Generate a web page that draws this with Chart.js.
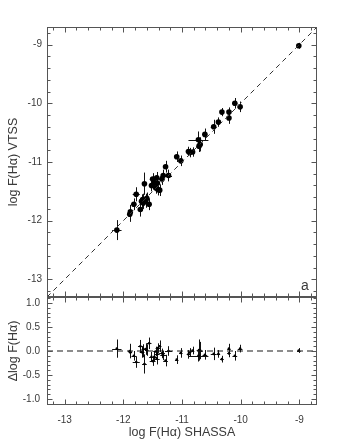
<!DOCTYPE html>
<html>
<head>
<meta charset="utf-8">
<script src="https://cdn.jsdelivr.net/npm/chart.js@4.4.1/dist/chart.umd.min.js"></script>
<style>
  html, body { margin: 0; padding: 0; background: #fff; }
  #wrap { position: relative; width: 360px; height: 448px; }
  #wrap canvas { position: absolute; left: 0; top: 0; }
</style>
</head>
<body>
<div id="wrap">
  <canvas id="chart-top" width="360" height="448"></canvas>
  <canvas id="chart-bottom" width="360" height="448"></canvas>
</div>
<script>
// --- values ---
const shassaLog = [-12.11, -11.89, -11.88, -11.82, -11.78, -11.71, -11.69, -11.67, -11.66, -11.64,
                   -11.62, -11.60, -11.56, -11.52, -11.50, -11.47, -11.45, -11.43, -11.42, -11.41,
                   -11.38, -11.34, -11.32, -11.28, -11.23, -11.09, -11.02, -10.89, -10.87, -10.82,
                   -10.72, -10.71, -10.69, -10.61, -10.46, -10.38, -10.32, -10.20, -10.20, -10.10,
                   -10.01, -9.01];
const vtssLog   = [-12.16, -11.89, -11.85, -11.72, -11.55, -11.81, -11.67, -11.64, -11.70, -11.37,
                   -11.66, -11.62, -11.72, -11.40, -11.29, -11.35, -11.44, -11.27, -11.36, -11.47,
                   -11.48, -11.29, -11.23, -11.08, -11.23, -10.91, -10.98, -10.82, -10.84, -10.83,
                   -10.62, -10.73, -10.70, -10.53, -10.40, -10.32, -10.15, -10.15, -10.25, -10.00,
                   -10.06, -9.02];
const shassaErr = [0.08, 0.03, 0.03, 0.04, 0.06, 0.04, 0.03, 0.03, 0.03, 0.04,
                   0.04, 0.03, 0.04, 0.04, 0.05, 0.06, 0.04, 0.05, 0.04, 0.04,
                   0.03, 0.05, 0.05, 0.04, 0.06, 0.03, 0.03, 0.03, 0.03, 0.03,
                   0.17, 0.04, 0.04, 0.04, 0.05, 0.03, 0.03, 0.03, 0.03, 0.04,
                   0.04, 0.03];
const vtssErr   = [0.17, 0.13, 0.12, 0.10, 0.12, 0.12, 0.12, 0.10, 0.10, 0.19,
                   0.12, 0.10, 0.10, 0.10, 0.10, 0.10, 0.10, 0.10, 0.10, 0.10,
                   0.10, 0.10, 0.10, 0.10, 0.10, 0.09, 0.09, 0.08, 0.08, 0.08,
                   0.14, 0.10, 0.12, 0.10, 0.12, 0.08, 0.07, 0.08, 0.10, 0.09,
                   0.09, 0.05];
const deltaLog  = [0.05, 0.00, -0.03, -0.10, -0.23, 0.10, -0.02, -0.03, 0.04, -0.27,
                   0.04, 0.02, 0.16, -0.12, -0.21, -0.12, -0.01, -0.16, -0.06, 0.06,
                   0.10, -0.05, -0.09, -0.20, 0.00, -0.18, -0.04, -0.07, -0.03, 0.01,
                   -0.10, 0.02, 0.01, -0.08, -0.06, -0.06, -0.17, -0.05, 0.05, -0.10,
                   0.05, 0.01];
const deltaErr  = [0.19, 0.15, 0.12, 0.10, 0.12, 0.13, 0.12, 0.10, 0.10, 0.20,
                   0.12, 0.12, 0.12, 0.10, 0.10, 0.10, 0.10, 0.12, 0.10, 0.10,
                   0.12, 0.10, 0.10, 0.12, 0.10, 0.09, 0.10, 0.09, 0.09, 0.08,
                   0.12, 0.22, 0.18, 0.10, 0.13, 0.08, 0.07, 0.08, 0.10, 0.10,
                   0.08, 0.05];

const refLineX = [-13.3, -8.7];
const fluxTicks = [-13, -12, -11, -10, -9];
const deltaTicks = [-1, -0.5, 0, 0.5, 1];
const deltaTickLabels = ['-1.0', '-0.5', '0.0', '0.5', '1.0'];

const AXIS = '#555';
const TEXT = '#3a3a3a';
const FONT = "'Liberation Sans', Arial, sans-serif";

function range(from, to, step) {
  const out = [];
  for (let v = from; v <= to + 1e-9; v += step) out.push(+v.toFixed(3));
  return out;
}

// error bars drawn through the chart scales
const errorBars = {
  id: 'errorBars',
  beforeDatasetsDraw(chart) {
    const { ctx, scales: { x, y } } = chart;
    chart.data.datasets.forEach(ds => {
      if (!ds.errY) return;
      ctx.save();
      ctx.strokeStyle = '#111';
      ctx.lineWidth = 1;
      ctx.beginPath();
      ds.data.forEach((p, i) => {
        const px = Math.round(x.getPixelForValue(p.x)) + 0.5;
        const py = Math.round(y.getPixelForValue(p.y)) + 0.5;
        ctx.moveTo(px, y.getPixelForValue(p.y - ds.errY[i]));
        ctx.lineTo(px, y.getPixelForValue(p.y + ds.errY[i]));
        ctx.moveTo(x.getPixelForValue(p.x - ds.errX[i]), py);
        ctx.lineTo(x.getPixelForValue(p.x + ds.errX[i]), py);
      });
      ctx.stroke();
      ctx.restore();
    });
  }
};

// box frame with inward ticks on all four sides
function frame(xMinor, yMajor, yMinor, note) {
  return {
    id: 'frame',
    afterDraw(chart) {
      const { ctx, chartArea: a, scales: { x, y } } = chart;
      const L = Math.round(a.left) + 0.5, R = Math.round(a.right) - 0.5;
      const T = Math.round(a.top) + 0.5, B = Math.round(a.bottom) - 0.5;
      ctx.save();
      ctx.strokeStyle = AXIS;
      ctx.lineWidth = 1;
      ctx.strokeRect(L, T, R - L, B - T);
      ctx.beginPath();
      const xt = (v, len) => {
        const px = Math.round(x.getPixelForValue(v)) + 0.5;
        ctx.moveTo(px, T); ctx.lineTo(px, T + len);
        ctx.moveTo(px, B); ctx.lineTo(px, B - len);
      };
      const yt = (v, len) => {
        const py = Math.round(y.getPixelForValue(v)) + 0.5;
        ctx.moveTo(L, py); ctx.lineTo(L + len, py);
        ctx.moveTo(R, py); ctx.lineTo(R - len, py);
      };
      fluxTicks.forEach(v => xt(v, 5));
      xMinor.forEach(v => xt(v, 3));
      yMajor.forEach(v => yt(v, 5));
      yMinor.forEach(v => yt(v, 3));
      ctx.stroke();
      if (note) {
        ctx.fillStyle = TEXT;
        ctx.font = `14px ${FONT}`;
        ctx.textAlign = 'center';
        ctx.textBaseline = 'middle';
        ctx.fillText(note, a.right - 12, a.bottom - 11);
      }
      ctx.restore();
    }
  };
}

const xMinor = range(-13.2, -8.8, 0.2);

const tickFont = { family: FONT, size: 10 };
const titleFont = { family: FONT, size: 12.5 };

new Chart(document.getElementById('chart-top'), {
  type: 'scatter',
  data: {
    datasets: [
      {
        type: 'line',
        data: refLineX.map(v => ({ x: v, y: v })),
        borderColor: '#333', borderWidth: 1, borderDash: [5, 4], pointRadius: 0, fill: false
      },
      {
        data: shassaLog.map((v, i) => ({ x: v, y: vtssLog[i] })),
        errX: shassaErr, errY: vtssErr,
        pointRadius: 2.8, pointStyle: 'circle', backgroundColor: '#000', borderWidth: 0
      }
    ]
  },
  options: {
    responsive: false,
    animation: false,
    devicePixelRatio: 1,
    layout: { padding: { top: 27, right: 43, bottom: 151, left: 0 } },
    plugins: { legend: { display: false }, tooltip: { enabled: false } },
    scales: {
      x: { type: 'linear', min: -13.3, max: -8.7, display: false },
      y: {
        type: 'linear', min: -13.3, max: -8.7,
        afterFit: s => { s.width = 47; },
        afterBuildTicks: s => { s.ticks = fluxTicks.map(v => ({ value: v })); },
        grid: { display: false, drawTicks: false },
        border: { display: false },
        ticks: { padding: 5, font: tickFont, color: TEXT, callback: v => String(v) },
        title: { display: true, text: 'log F(H\u03B1) VTSS', font: titleFont, color: TEXT, padding: { top: 6 } }
      }
    }
  },
  plugins: [errorBars, frame(xMinor, fluxTicks, range(-13.2, -8.8, 0.2), 'a')]
});

new Chart(document.getElementById('chart-bottom'), {
  type: 'scatter',
  data: {
    datasets: [
      {
        type: 'line',
        data: refLineX.map(v => ({ x: v, y: 0 })),
        borderColor: '#1a1a1a', borderWidth: 1.2, borderDash: [6, 4], pointRadius: 0, fill: false
      },
      {
        data: shassaLog.map((v, i) => ({ x: v, y: deltaLog[i] })),
        errX: shassaErr, errY: deltaErr,
        pointRadius: 1.3, pointStyle: 'circle', backgroundColor: '#000', borderWidth: 0
      }
    ]
  },
  options: {
    responsive: false,
    animation: false,
    devicePixelRatio: 1,
    layout: { padding: { top: 297, right: 43, bottom: 0, left: 0 } },
    plugins: { legend: { display: false }, tooltip: { enabled: false } },
    scales: {
      x: {
        type: 'linear', min: -13.3, max: -8.7,
        afterFit: s => { s.height = 43; },
        afterBuildTicks: s => { s.ticks = fluxTicks.map(v => ({ value: v })); },
        grid: { display: false, drawTicks: false },
        border: { display: false },
        ticks: { padding: 9, font: tickFont, color: TEXT, maxRotation: 0, callback: v => String(v) },
        title: { display: true, text: 'log F(H\u03B1) SHASSA', font: titleFont, color: TEXT, padding: { bottom: 8 } }
      },
      y: {
        type: 'linear', min: -1.125, max: 1.125,
        afterFit: s => { s.width = 47; },
        afterBuildTicks: s => { s.ticks = deltaTicks.map(v => ({ value: v })); },
        grid: { display: false, drawTicks: false },
        border: { display: false },
        ticks: { padding: 7, font: tickFont, color: TEXT, callback: (v, i) => deltaTickLabels[i] },
        title: { display: true, text: '\u0394log F(H\u03B1)', font: titleFont, color: TEXT, padding: { top: 6 } }
      }
    }
  },
  plugins: [errorBars, frame(xMinor, deltaTicks, range(-1.1, 1.1, 0.1), null)]
});
</script>
</body>
</html>
